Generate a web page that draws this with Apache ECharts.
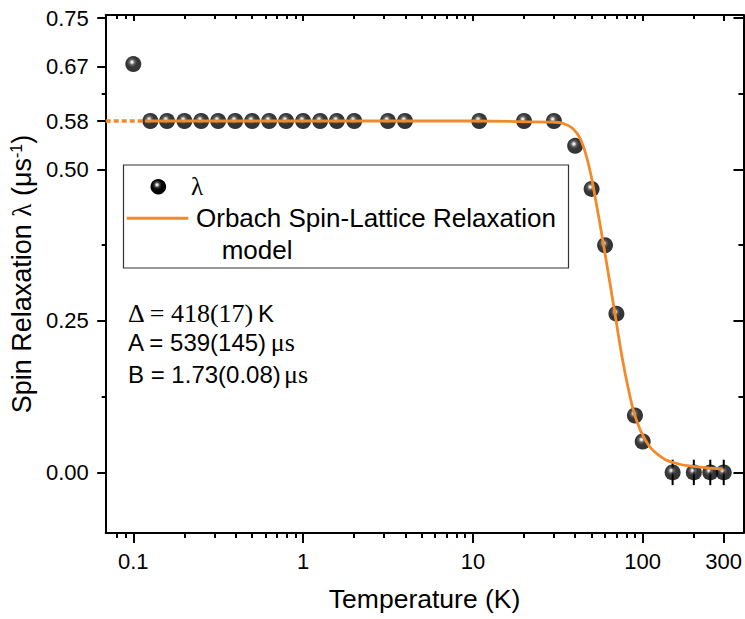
<!DOCTYPE html>
<html>
<head>
<meta charset="utf-8">
<script src="https://cdn.jsdelivr.net/npm/echarts/dist/echarts.min.js"></script>
<style>
  html, body { margin: 0; padding: 0; background: #fff; }
  #chart { width: 745px; height: 619px; }
</style>
</head>
<body>
<div id="chart"></div>
<script>
// measured data (temperature in K, lambda in 1/us)
const tempK = [0.1, 0.126, 0.158, 0.2, 0.251, 0.316, 0.398, 0.501, 0.631, 0.794, 1.0, 1.26, 1.58, 2.0,
  3.16, 3.98, 10.9, 20, 30, 40, 50, 60, 70, 90, 100, 150, 200, 250, 300];
const lambda = [0.674, 0.58, 0.58, 0.58, 0.58, 0.58, 0.58, 0.58, 0.58, 0.58, 0.58, 0.58, 0.58, 0.58,
  0.58, 0.58, 0.58, 0.58, 0.58, 0.539, 0.468, 0.375, 0.262, 0.094, 0.051, 0, 0, 0, 0];

// error bars only visible on the high temperature points
const errT = [150, 200, 250, 300];
const errVal = [0.021, 0.021, 0.021, 0.021];

// Orbach fit curve
const fitT = [0.117, 10, 30, 33.8, 38.6, 43.2, 48.3, 52.8, 57.7, 63.2, 69.1, 75.5, 82.6, 90.4, 103.4, 123.6, 154.7, 211.5, 296];
const fitL = [0.58, 0.58, 0.578, 0.576, 0.568, 0.549, 0.505, 0.45, 0.389, 0.323, 0.257, 0.191, 0.136, 0.092, 0.054, 0.029, 0.0155, 0.009, 0.0056];
// dotted extrapolation to the left
const extT = [0.0688, 0.117];
const extL = [0.58, 0.58];

// axes
const xMin = 0.0688, xMax = 392;
const xTicks = [0.1, 1, 10, 100, 300];
const xMinorTicks = [0.08, 0.09, 0.2, 0.3, 0.4, 0.5, 0.6, 0.7, 0.8, 0.9, 2, 3, 4, 5, 6, 7, 8, 9,
  20, 30, 40, 50, 60, 70, 80, 90, 200];
const yMin = -0.1, yMax = 0.755;
const yTicks = [0, 0.25, 0.5, 0.58, 0.67, 0.75];
const yTicksRight = [0, 0.25, 0.5, 0.75];
const yMinorTicks = [0.125, 0.375, 0.625];

const orange = '#f28a2a';
const sansFont = '"Liberation Sans", Arial, sans-serif';
const serifFont = '"Liberation Serif", "DejaVu Serif", serif';

const chart = echarts.init(document.getElementById('chart'), null, { renderer: 'svg' });

// black sphere with a small white highlight
const ball = {
  type: 'radial', x: 0.42, y: 0.38, r: 0.62,
  colorStops: [
    { offset: 0, color: '#ffffff' },
    { offset: 0.1, color: '#dcdcdc' },
    { offset: 0.28, color: '#3a3a3a' },
    { offset: 0.5, color: '#050505' },
    { offset: 1, color: '#000000' }
  ]
};

const axisLine = { show: true, onZero: false, lineStyle: { color: '#000', width: 2 } };

function xAxisDef(pos, ticks, len, inside, withLabel, showLine) {
  return {
    type: 'log', logBase: 10, min: xMin, max: xMax, position: pos,
    axisLine: showLine ? axisLine : { show: false, onZero: false },
    axisTick: { show: true, inside: inside, length: len, customValues: ticks, lineStyle: { color: '#000', width: 2 } },
    axisLabel: withLabel ? {
      show: true, customValues: ticks, margin: 17, color: '#000', fontSize: 22, fontFamily: sansFont,
      formatter: v => String(v)
    } : { show: false },
    splitLine: { show: false }
  };
}

function yAxisDef(pos, ticks, len, inside, withLabel, showLine) {
  return {
    type: 'value', min: yMin, max: yMax, position: pos,
    axisLine: showLine ? axisLine : { show: false, onZero: false },
    axisTick: { show: true, inside: inside, length: len, customValues: ticks, lineStyle: { color: '#000', width: 2 } },
    axisLabel: withLabel ? {
      show: true, customValues: ticks, margin: 17, color: '#000', fontSize: 22, fontFamily: sansFont,
      formatter: v => v.toFixed(2)
    } : { show: false },
    splitLine: { show: false }
  };
}

const xMain = xAxisDef('bottom', xTicks, 10, false, true, true);
xMain.name = 'Temperature (K)';
xMain.nameLocation = 'middle';
xMain.nameGap = 52;
xMain.nameTextStyle = { color: '#000', fontSize: 26.5, fontFamily: sansFont };

const yMain = yAxisDef('left', yTicks, 8.5, false, true, true);
yMain.name = '{a|Spin Relaxation }{l|λ}{a| (μs}{sup|-1}{a|)}';
yMain.nameLocation = 'middle';
yMain.nameGap = 61;
yMain.nameTextStyle = {
  rich: {
    a: { fontSize: 27, fontFamily: sansFont, color: '#000' },
    l: { fontSize: 27, fontFamily: serifFont, color: '#000' },
    sup: { fontSize: 16, fontFamily: sansFont, color: '#000', verticalAlign: 'top' }
  }
};

const option = {
  backgroundColor: '#fff',
  animation: false,
  grid: { left: 103, right: -3, top: 15, bottom: 86, containLabel: false },
  xAxis: [
    xMain,
    xAxisDef('bottom', xMinorTicks, 5, false, false, false),
    xAxisDef('top', xTicks, 6, true, false, true),
    xAxisDef('top', xMinorTicks, 4, true, false, false)
  ],
  yAxis: [
    yMain,
    yAxisDef('left', yMinorTicks, 4, false, false, false),
    yAxisDef('right', yTicksRight, 10, true, false, true),
    yAxisDef('right', yMinorTicks, 5, true, false, false)
  ],
  series: [
    {
      name: 'errors',
      type: 'custom',
      z: 1,
      data: errT.map((t, i) => [t, lambda[tempK.indexOf(t)], errVal[i]]),
      renderItem: function (params, api) {
        const y = api.value(1), e = api.value(2);
        const p1 = api.coord([api.value(0), y - e]);
        const p2 = api.coord([api.value(0), y + e]);
        return {
          type: 'line',
          shape: { x1: p1[0], y1: p1[1], x2: p2[0], y2: p2[1] },
          style: { stroke: '#000', lineWidth: 2 }
        };
      }
    },
    {
      name: 'λ',
      type: 'scatter',
      z: 2,
      symbol: 'circle',
      symbolSize: 16,
      itemStyle: { color: ball },
      data: tempK.map((t, i) => [t, lambda[i]])
    },
    {
      name: 'extrapolation',
      type: 'line',
      z: 3,
      symbol: 'none',
      lineStyle: { color: orange, width: 3.5, type: [5, 3] },
      data: extT.map((t, i) => [t, extL[i]])
    },
    {
      name: 'Orbach Spin-Lattice Relaxation model',
      type: 'line',
      z: 3,
      symbol: 'none',
      smooth: 0.45,
      lineStyle: { color: orange, width: 2.8 },
      data: fitT.map((t, i) => [t, fitL[i]])
    }
  ],
  graphic: [
    // legend box
    {
      type: 'rect', z: 10,
      shape: { x: 123.5, y: 165, width: 445, height: 103 },
      style: { fill: '#fff', stroke: '#333', lineWidth: 1.2 }
    },
    { type: 'circle', z: 11, shape: { cx: 158.3, cy: 186.7, r: 7.8 }, style: { fill: ball } },
    {
      type: 'text', z: 11, x: 191, y: 186,
      style: { text: 'λ', font: '25px ' + serifFont, fill: '#000', verticalAlign: 'middle' }
    },
    {
      type: 'line', z: 11,
      shape: { x1: 126.7, y1: 218.3, x2: 188.3, y2: 218.3 },
      style: { stroke: orange, lineWidth: 3 }
    },
    {
      type: 'text', z: 11, x: 196, y: 218,
      style: { text: 'Orbach Spin-Lattice Relaxation', font: '26px ' + sansFont, fill: '#000', verticalAlign: 'middle' }
    },
    {
      type: 'text', z: 11, x: 221.7, y: 250,
      style: { text: 'model', font: '26px ' + sansFont, fill: '#000', verticalAlign: 'middle' }
    },
    // fit parameters
    {
      type: 'text', z: 11, x: 128, y: 313,
      style: {
        text: '{s|Δ = 418(17)} {n|K}', verticalAlign: 'middle',
        rich: {
          s: { fontSize: 26, fontFamily: serifFont, fill: '#000' },
          n: { fontSize: 24, fontFamily: sansFont, fill: '#000' }
        }
      }
    },
    {
      type: 'text', z: 11, x: 128, y: 342,
      style: {
        text: '{n|A = 539(145)} {s|μs}', verticalAlign: 'middle',
        rich: {
          s: { fontSize: 26, fontFamily: serifFont, fill: '#000' },
          n: { fontSize: 24, fontFamily: sansFont, fill: '#000' }
        }
      }
    },
    {
      type: 'text', z: 11, x: 128, y: 374,
      style: {
        text: '{n|B = 1.73(0.08)} {s|μs}', verticalAlign: 'middle',
        rich: {
          s: { fontSize: 26, fontFamily: serifFont, fill: '#000' },
          n: { fontSize: 24, fontFamily: sansFont, fill: '#000' }
        }
      }
    }
  ]
};

chart.setOption(option);
</script>
</body>
</html>
